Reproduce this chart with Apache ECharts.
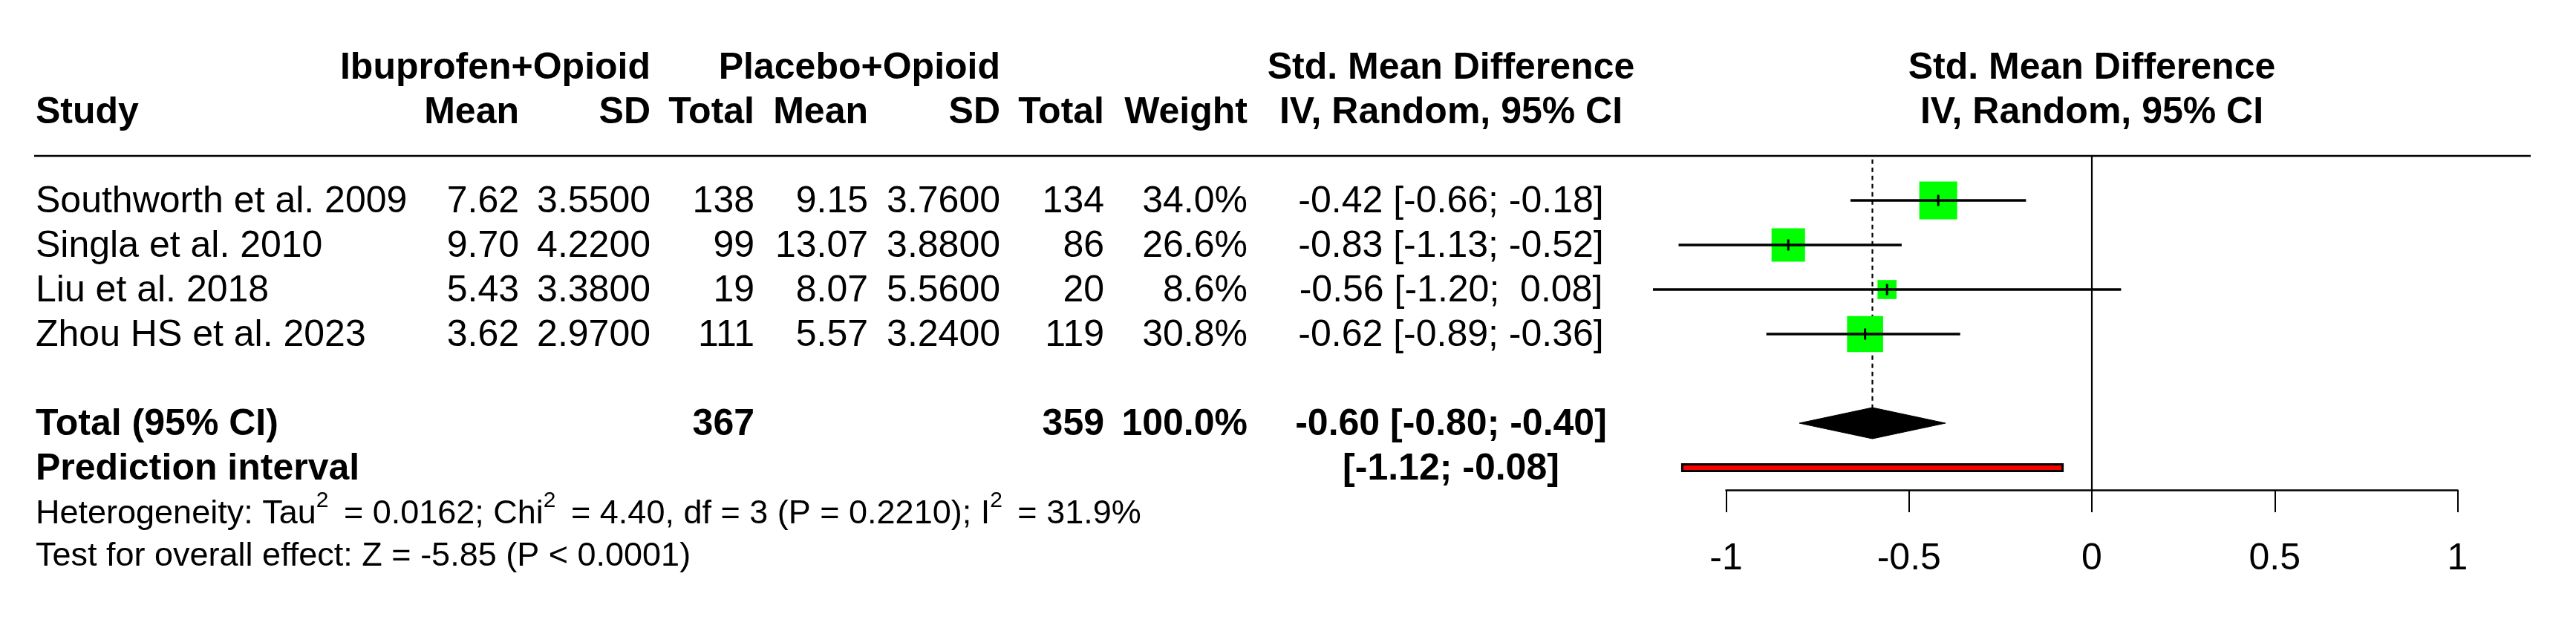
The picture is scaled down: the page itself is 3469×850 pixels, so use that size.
<!DOCTYPE html>
<html><head><meta charset="utf-8">
<script src="https://cdn.jsdelivr.net/npm/echarts@6/dist/echarts.min.js"></script>
<style>html,body{margin:0;padding:0;background:#fff}#c{width:3469px;height:850px}</style>
</head><body><div id="c"></div>
<script>
// ---------------- DATA ----------------
const studies  = ['Southworth et al. 2009', 'Singla et al. 2010', 'Liu et al. 2018', 'Zhou HS et al. 2023'];
const ibuMean  = [7.62, 9.70, 5.43, 3.62];
const ibuSD    = [3.55, 4.22, 3.38, 2.97];
const ibuN     = [138, 99, 19, 111];
const plaMean  = [9.15, 13.07, 8.07, 5.57];
const plaSD    = [3.76, 3.88, 5.56, 3.24];
const plaN     = [134, 86, 20, 119];
const weights  = [34.0, 26.6, 8.6, 30.8];
const smd      = [-0.42, -0.83, -0.56, -0.62];
const ciLow    = [-0.66, -1.13, -1.20, -0.89];
const ciHigh   = [-0.18, -0.52, 0.08, -0.36];
const totalN   = [367, 359];
const totalWeight = 100.0;
const pooled   = [-0.60, -0.80, -0.40];   // estimate, lower, upper
const predInt  = [-1.12, -0.08];
const hetStats = {tau2: '0.0162', chi2: '4.40', df: 3, p: '0.2210', i2: '31.9%'};
const testStats = {z: '-5.85', p: '< 0.0001'};
const xTicks   = [-1, -0.5, 0, 0.5, 1];

// ---------------- LAYOUT / STYLE ----------------
const FONT = '"Liberation Sans", Arial, Helvetica, sans-serif';
const COL = {study: 48, ibuMean: 699, ibuSD: 876, ibuN: 1016, plaMean: 1169, plaSD: 1347, plaN: 1487, weight: 1680, smd: 1954};
const ROW = {group: -2, head: -1, rule: 0, first: 1, total: 6, pred: 7, het: 8, test: 8.95, axis: 7.5};
const RULE = [46, 3408];

const f2 = v => v.toFixed(2);
const ciTxt = (l, h) => '[' + f2(l) + ';' + (h >= 0 ? '  ' : ' ') + f2(h) + ']';

const cells = [];
function cell(x, row, text, align, bold, size, rich) { cells.push({x, row, text, align, bold: !!bold, size: size || 50, rich}); }

cell(COL.ibuSD, ROW.group, 'Ibuprofen+Opioid', 'right', true);
cell(COL.plaSD, ROW.group, 'Placebo+Opioid', 'right', true);
cell(COL.smd, ROW.group, 'Std. Mean Difference', 'center', true);
cell(COL.study, ROW.head, 'Study', 'left', true);
cell(COL.ibuMean, ROW.head, 'Mean', 'right', true);
cell(COL.ibuSD, ROW.head, 'SD', 'right', true);
cell(COL.ibuN, ROW.head, 'Total', 'right', true);
cell(COL.plaMean, ROW.head, 'Mean', 'right', true);
cell(COL.plaSD, ROW.head, 'SD', 'right', true);
cell(COL.plaN, ROW.head, 'Total', 'right', true);
cell(COL.weight, ROW.head, 'Weight', 'right', true);
cell(COL.smd, ROW.head, 'IV, Random, 95% CI', 'center', true);

studies.forEach((s, i) => {
  const r = ROW.first + i;
  cell(COL.study, r, s, 'left');
  cell(COL.ibuMean, r, ibuMean[i].toFixed(2), 'right');
  cell(COL.ibuSD, r, ibuSD[i].toFixed(4), 'right');
  cell(COL.ibuN, r, String(ibuN[i]), 'right');
  cell(COL.plaMean, r, plaMean[i].toFixed(2), 'right');
  cell(COL.plaSD, r, plaSD[i].toFixed(4), 'right');
  cell(COL.plaN, r, String(plaN[i]), 'right');
  cell(COL.weight, r, weights[i].toFixed(1) + '%', 'right');
  cell(COL.smd, r, f2(smd[i]) + ' ' + ciTxt(ciLow[i], ciHigh[i]), 'center');
});

cell(COL.study, ROW.total, 'Total (95% CI)', 'left', true);
cell(COL.ibuN, ROW.total, String(totalN[0]), 'right', true);
cell(COL.plaN, ROW.total, String(totalN[1]), 'right', true);
cell(COL.weight, ROW.total, totalWeight.toFixed(1) + '%', 'right', true);
cell(COL.smd, ROW.total, f2(pooled[0]) + ' ' + ciTxt(pooled[1], pooled[2]), 'center', true);
cell(COL.study, ROW.pred, 'Prediction interval', 'left', true);
cell(COL.smd, ROW.pred, ciTxt(predInt[0], predInt[1]), 'center', true);
cell(COL.study, ROW.het,
  'Heterogeneity: Tau{s|2} = ' + hetStats.tau2 + '; Chi{s|2} = ' + hetStats.chi2 + ', df = ' + hetStats.df +
  ' (P = ' + hetStats.p + '); I{s|2} = ' + hetStats.i2, 'left', false, 45, true);
cell(COL.study, ROW.test, 'Test for overall effect: Z = ' + testStats.z + ' (P ' + testStats.p + ')', 'left', false, 45);

function textStyle(c) {
  const st = {
    text: c.text, fill: '#000', fontFamily: FONT, fontSize: c.size,
    fontWeight: c.bold ? 'bold' : 'normal',
    align: c.align, textAlign: c.align, verticalAlign: 'middle', textVerticalAlign: 'middle'
  };
  if (c.rich) st.rich = { s: { fontSize: 30, lineHeight: 30, fontFamily: FONT, fill: '#000', padding: [0, 8, 36, 0] } };
  return st;
}

function renderCell(params, api) {
  const c = cells[params.dataIndex];
  const p = api.coord([c.x, c.row]);
  return { type: 'text', x: p[0], y: p[1] + 2.5, style: textStyle(c) };
}

function renderRule(params, api) {
  const a = api.coord([RULE[0], ROW.rule]), b = api.coord([RULE[1], ROW.rule]);
  return { type: 'line', shape: {x1: a[0], y1: a[1], x2: b[0], y2: b[1]}, style: {stroke: '#000', lineWidth: 2.5} };
}

const forestHead = [['Std. Mean Difference', ROW.group], ['IV, Random, 95% CI', ROW.head]];
function renderForestHead(params, api) {
  const h = forestHead[params.dataIndex];
  const p = api.coord([0, h[1]]);
  return { type: 'text', x: p[0], y: p[1] + 2.5, style: textStyle({text: h[0], size: 50, bold: true, align: 'center'}) };
}

function renderRefLines(params, api) {
  const z0 = api.coord([0, ROW.rule]), z1 = api.coord([0, ROW.axis]);
  const d0 = api.coord([pooled[0], 0.08]), d1 = api.coord([pooled[0], ROW.total - 0.35]);
  return { type: 'group', children: [
    { type: 'line', shape: {x1: z0[0], y1: z0[1], x2: z1[0], y2: z1[1]}, style: {stroke: '#000', lineWidth: 2.2} },
    { type: 'line', shape: {x1: d0[0], y1: d0[1], x2: d1[0], y2: d1[1]}, style: {stroke: '#000', lineWidth: 2.2, lineDash: [6, 5]} }
  ]};
}

function renderStudy(params, api) {
  const i = params.dataIndex;
  const r = ROW.first + i;
  const c = api.coord([smd[i], r]);
  const l = api.coord([ciLow[i], r]);
  const h = api.coord([ciHigh[i], r]);
  const s = Math.sqrt(weights[i]) * 8.75;
  return { type: 'group', children: [
    { type: 'rect', shape: {x: c[0] - s / 2, y: c[1] - s / 2, width: s, height: s}, style: {fill: '#00FF00'} },
    { type: 'line', shape: {x1: l[0], y1: l[1], x2: h[0], y2: h[1]}, style: {stroke: '#000', lineWidth: 3.5} },
    { type: 'line', shape: {x1: c[0], y1: c[1] - 7.5, x2: c[0], y2: c[1] + 7.5}, style: {stroke: '#000', lineWidth: 3} }
  ]};
}

function renderDiamond(params, api) {
  const r = ROW.total;
  const pts = [api.coord([pooled[1], r]), api.coord([pooled[0], r - 0.35]), api.coord([pooled[2], r]), api.coord([pooled[0], r + 0.35])];
  return { type: 'polygon', shape: {points: pts}, style: {fill: '#000', stroke: '#000', lineWidth: 1} };
}

function renderPred(params, api) {
  const a = api.coord([predInt[0], ROW.pred]), b = api.coord([predInt[1], ROW.pred]);
  return { type: 'rect', shape: {x: a[0], y: a[1] - 4.5, width: b[0] - a[0], height: 9}, style: {fill: '#FF0000', stroke: '#000', lineWidth: 3} };
}

const chart = echarts.init(document.getElementById('c'), null, {renderer: 'canvas'});
chart.setOption({
  animation: false,
  backgroundColor: '#fff',
  grid: [
    {left: 0, right: 0, top: 30, bottom: 40, outerBoundsMode: 'none'},
    {left: 2324.5, right: 159.5, top: 30, bottom: 190, outerBoundsMode: 'none'}
  ],
  xAxis: [
    {gridIndex: 0, type: 'value', min: 0, max: 3469, show: false},
    {gridIndex: 1, type: 'value', min: xTicks[0], max: xTicks[xTicks.length - 1], interval: 0.5,
     axisLine: {show: true, onZero: false, lineStyle: {color: '#000', width: 2.5}},
     axisTick: {show: true, length: 30, lineStyle: {color: '#000', width: 2}},
     axisLabel: {show: true, fontSize: 50, color: '#000', fontFamily: FONT, margin: 68, showMinLabel: true, showMaxLabel: true},
     splitLine: {show: false}}
  ],
  yAxis: [
    {gridIndex: 0, type: 'value', min: -3, max: 10, inverse: true, show: false},
    {gridIndex: 1, type: 'value', min: -3, max: 7.5, inverse: true, show: false}
  ],
  series: [
    {type: 'custom', xAxisIndex: 0, yAxisIndex: 0, clip: false, renderItem: renderRule, data: [[RULE[0], ROW.rule]]},
    {type: 'custom', xAxisIndex: 0, yAxisIndex: 0, clip: false, renderItem: renderCell, data: cells.map(c => [c.x, c.row])},
    {type: 'custom', xAxisIndex: 1, yAxisIndex: 1, clip: false, renderItem: renderForestHead, data: forestHead.map(h => [0, h[1]])},
    {type: 'custom', xAxisIndex: 1, yAxisIndex: 1, clip: false, renderItem: renderRefLines, data: [[0, ROW.rule]]},
    {type: 'custom', xAxisIndex: 1, yAxisIndex: 1, clip: false, renderItem: renderStudy, data: smd.map((e, i) => [e, ROW.first + i])},
    {type: 'custom', xAxisIndex: 1, yAxisIndex: 1, clip: false, renderItem: renderDiamond, data: [[pooled[0], ROW.total]]},
    {type: 'custom', xAxisIndex: 1, yAxisIndex: 1, clip: false, renderItem: renderPred, data: [[predInt[0], ROW.pred]]}
  ]
});
</script>
</body></html>
